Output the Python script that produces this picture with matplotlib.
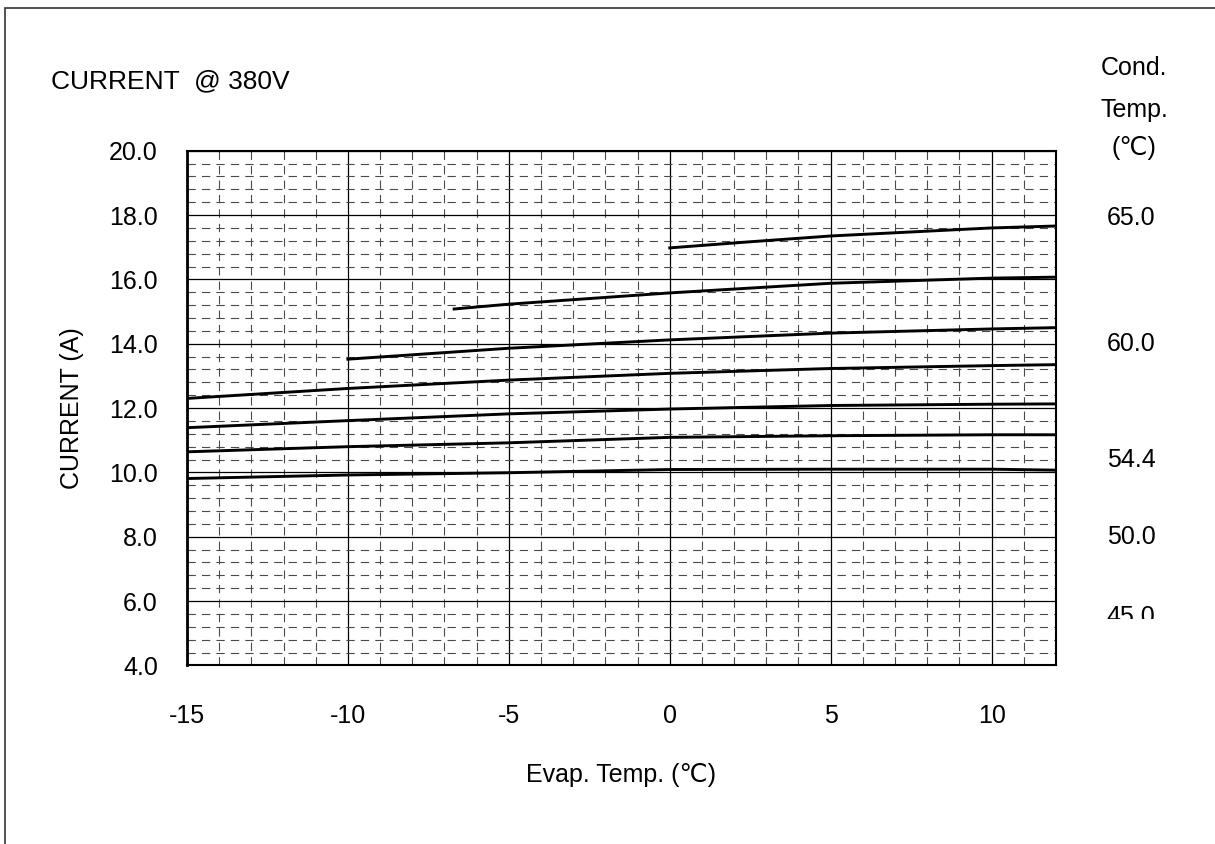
import numpy as np
import matplotlib
matplotlib.use("Agg")
import matplotlib.pyplot as plt
from matplotlib.patches import Rectangle
from matplotlib.transforms import Bbox, TransformedBbox

plt.rcParams['font.family'] = ['Liberation Sans', 'DejaVu Sans']
plt.rcParams['axes.unicode_minus'] = False

# current curves (A) vs evap temp (C), one per cond. temp
x_c1 = [0, 2.5, 5, 10, 12]
y_c1 = [16.98, 17.17, 17.35, 17.60, 17.66]
x_c2 = [-6.7, -5, 0, 5, 10, 12]
y_c2 = [15.08, 15.23, 15.58, 15.88, 16.04, 16.07]
x_c3 = [-10, -5, 0, 5, 10, 12]
y_c3 = [13.52, 13.86, 14.12, 14.33, 14.46, 14.50]
x_full = [-15, -10, -5, 0, 5, 10, 12]
y_c4 = [12.30, 12.61, 12.87, 13.08, 13.23, 13.32, 13.35]
y_c5 = [11.39, 11.61, 11.82, 11.97, 12.08, 12.12, 12.13]
y_c6 = [10.64, 10.80, 10.92, 11.09, 11.14, 11.17, 11.17]
y_c7 = [9.81, 9.92, 9.99, 10.09, 10.10, 10.10, 10.07]

cond_labels = ['65.0', '60.0', '54.4', '50.0', '45.0']
cond_label_y = [17.9, 14.0, 10.4, 8.0, 5.5]

xticks = [-15, -10, -5, 0, 5, 10]
yticks = np.arange(4, 20.1, 2)

fs = 18

fig = plt.figure(figsize=(12.15, 8.44), dpi=100)
ax = fig.add_axes([0.1539, 0.2116, 0.7152, 0.6098])

curves = [(x_c1, y_c1), (x_c2, y_c2), (x_c3, y_c3), (x_full, y_c4),
          (x_full, y_c5), (x_full, y_c6), (x_full, y_c7)]
for xs, ys in curves:
    ax.plot(xs, ys, c='black', linewidth=2.1, zorder=3)

ax.set_xlim(-15, 12)
ax.set_ylim(4, 20)
ax.set_xticks(xticks)
ax.set_yticks(yticks)
ax.set_yticklabels([f"{v:.1f}" for v in yticks])
ax.set_xticks(np.arange(-15, 12.01, 1), minor=True)
ax.set_yticks(np.arange(4, 20.01, 0.4), minor=True)
ax.grid(which='major', color='black', linewidth=0.9, linestyle='-')
ax.grid(which='minor', color='#4a4a4a', linewidth=0.8, dashes=(7.5, 5.5))
ax.set_axisbelow(True)
ax.tick_params(which='both', length=0, labelsize=fs)
ax.tick_params(axis='x', pad=28)
ax.tick_params(axis='y', pad=21)
for axis in ['top', 'bottom', 'left', 'right']:
    ax.spines[axis].set_linewidth(1.5)
ax.spines['left'].set_linewidth(2)

ax.set_xlabel("Evap. Temp. (\u2103)", fontsize=fs)
ax.xaxis.set_label_coords(0.5, -0.19)
ax.text(-0.132, 0.5, "CURRENT (A)", transform=ax.transAxes, rotation=90,
        ha='center', va='center', fontsize=fs)
ax.text(-0.1565, 1.134, "CURRENT  @ 380V", transform=ax.transAxes,
        ha='left', va='center', fontsize=19)

# condensing temperature labels on the right
for txt, yy in zip(["Cond.", "Temp.", "(\u2103)"], [1.16, 1.08, 1.005]):
    ax.text(1.09, yy, txt, transform=ax.transAxes, ha='center', va='center',
            fontsize=fs)
clip = TransformedBbox(Bbox([[1.0, 0.09], [1.3, 1.0]]), ax.transAxes)
for txt, yy in zip(cond_labels, cond_label_y):
    t = ax.text(14.33, yy, txt, ha='center', va='center', fontsize=fs,
                clip_on=True)
    t.set_clip_box(clip)

# outer frame of the chart area
fig.add_artist(Rectangle((5 / 1215, -0.2), 1.5, 1.2 - 8 / 844,
                         transform=fig.transFigure, fill=False,
                         edgecolor='#333333', linewidth=1.2))

fig.savefig("out.png", dpi=100)
